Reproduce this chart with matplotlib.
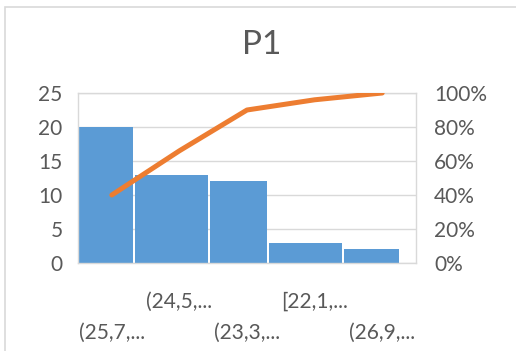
import numpy as np
import matplotlib
matplotlib.use("Agg")
import matplotlib.pyplot as plt
from matplotlib.patches import Rectangle
from matplotlib.ticker import PercentFormatter

# Histogram bins (counts) with their cumulative Pareto share
categories = ["(25,7,...", "(24,5,...", "(23,3,...", "[22,1,...", "(26,9,..."]
counts = [20, 13, 12, 3, 2]
cumulative_pct = [0.40, 0.66, 0.90, 0.96, 1.00]

left_ticks = [0, 5, 10, 15, 20, 25]
right_ticks = [0.0, 0.2, 0.4, 0.6, 0.8, 1.0]

BAR_COLOR = "#5B9BD5"
LINE_COLOR = "#ED7D31"
TEXT_COLOR = "#595959"
GRID_COLOR = "#D9D9D9"
FONT = ["Lato", "DejaVu Sans"]

plt.rcParams["font.family"] = FONT

fig = plt.figure(figsize=(5.16, 3.51), dpi=100)
fig.patch.set_facecolor("white")

# chart-area outline
fig.patches.append(Rectangle((5 / 516, -0.1), 1.2, 1 - 7 / 351 + 0.1,
                             transform=fig.transFigure, fill=False,
                             edgecolor=GRID_COLOR, linewidth=1.2))

ax = fig.add_axes([78 / 516, 88 / 351, 338 / 516, 170 / 351])
x = np.arange(len(categories))

# bar widths as rendered (in category units), separated by a thin gap
bar_widths = np.array([0.81, 1.09, 0.83, 1.09, 0.81])
gap = 0.03
lefts = -0.5 + np.concatenate([[0], np.cumsum(bar_widths[:-1] + gap)])
ax.bar(lefts, counts, width=bar_widths, align="edge", color=BAR_COLOR,
       edgecolor="none", zorder=2)

ax.set_xlim(-0.5, len(categories) - 0.5)
ax.set_ylim(0, 25)
ax.set_yticks(left_ticks)
ax.yaxis.grid(True, color=GRID_COLOR, linewidth=1)
ax.set_axisbelow(True)
for s in ax.spines.values():
    s.set_color(GRID_COLOR)
    s.set_linewidth(1)
ax.tick_params(axis="y", length=0, pad=11, labelsize=15, labelcolor=TEXT_COLOR)
ax.set_xticks(x)
ax.set_xticklabels(categories)
ax.tick_params(axis="x", length=0, labelsize=15, labelcolor=TEXT_COLOR)
for i, tick in enumerate(ax.xaxis.get_major_ticks()):
    tick.set_pad(43 if i % 2 == 0 else 21)

ax2 = ax.twinx()
ax2.plot(x, cumulative_pct, color=LINE_COLOR, linewidth=3.6,
         solid_capstyle="round", solid_joinstyle="round", zorder=3)
ax2.set_ylim(0, 1)
ax2.set_yticks(right_ticks)
ax2.yaxis.set_major_formatter(PercentFormatter(1.0, decimals=0))
ax2.tick_params(axis="y", length=0, pad=13, labelsize=15, labelcolor=TEXT_COLOR)
for s in ax2.spines.values():
    s.set_visible(False)

fig.text(262 / 516, 1 - 45 / 351, "P1", ha="center", va="center",
         fontsize=24, color=TEXT_COLOR)

fig.savefig("out.png", dpi=100)
